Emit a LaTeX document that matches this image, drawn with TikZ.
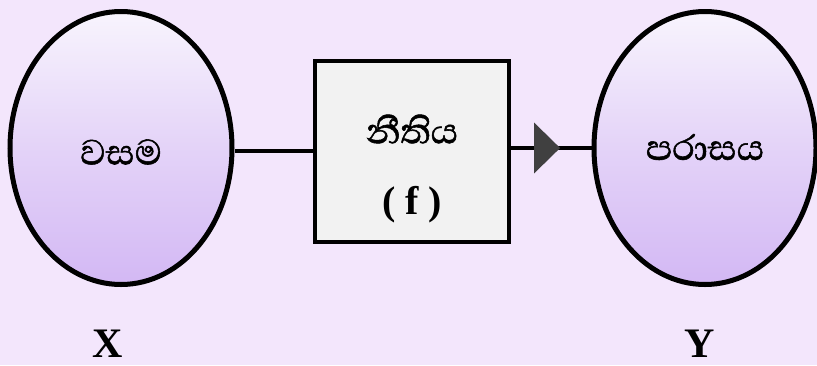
\documentclass[tikz,border=0pt]{standalone}
\usepackage{fontspec}
\setmainfont{Liberation Serif}
\newfontfamily\sinhala[Script=Sinhala,FakeBold=1.2]{Abhaya Libre}
\usetikzlibrary{shapes.geometric,arrows.meta,decorations.markings}
\definecolor{pagebg}{HTML}{F3E6FC}
\definecolor{ovaltop}{HTML}{F8F4FD}
\definecolor{ovalbot}{HTML}{D3B8F4}
\definecolor{boxfill}{HTML}{F2F2F2}
\definecolor{tipgray}{HTML}{404040}
\tikzset{
  setoval/.style={ellipse, draw=black, line width=5pt, inner sep=0pt,
    minimum width=222pt, minimum height=273pt,
    top color=ovaltop, bottom color=ovalbot, middle color=ovalbot!55!ovaltop},
  rulebox/.style={draw=black, line width=4pt, fill=boxfill, inner sep=0pt,
    minimum width=194pt, minimum height=181pt},
  link/.style={line width=4pt, draw=black},
  sinlabel/.style={font=\sinhala\fontsize{45}{50}\selectfont, inner sep=0pt},
  letterlabel/.style={font=\bfseries\fontsize{42}{44}\selectfont, inner sep=0pt},
}
\begin{document}
\begin{tikzpicture}[x=1pt,y=-1pt]
  \fill[pagebg] (0,0) rectangle (817,365);
  \useasboundingbox (0,0) rectangle (817,365);

  \node[setoval] (dom) at (121,148) {};
  \node[setoval] (rng) at (705,148) {};
  \node[rulebox] (rule) at (412,151) {};

  \node[sinlabel] (domtxt) at (121,152) {වසම};
  \node[sinlabel] (rngtxt) at (705,147) {පරාසය};
  \node[sinlabel] (ruletxt) at (412,129) {නීතිය};
  \node[font=\bfseries\fontsize{40}{44}\selectfont, inner sep=0pt] (ftxt) at (412,205) {( f )};

  \node[letterlabel] (xlab) at (108,344) {X};
  \node[letterlabel] (ylab) at (700,344) {Y};

  \draw[link] (dom.east |- rule.west) -- (rule.west);
  \draw[link, postaction={decorate}, decoration={markings,
      mark=at position 0.61 with {\arrow[tipgray]{Triangle[length=26pt,width=50pt]}}}]
    (rule.east |- rng.west) -- (rng.west);
\end{tikzpicture}
\end{document}
